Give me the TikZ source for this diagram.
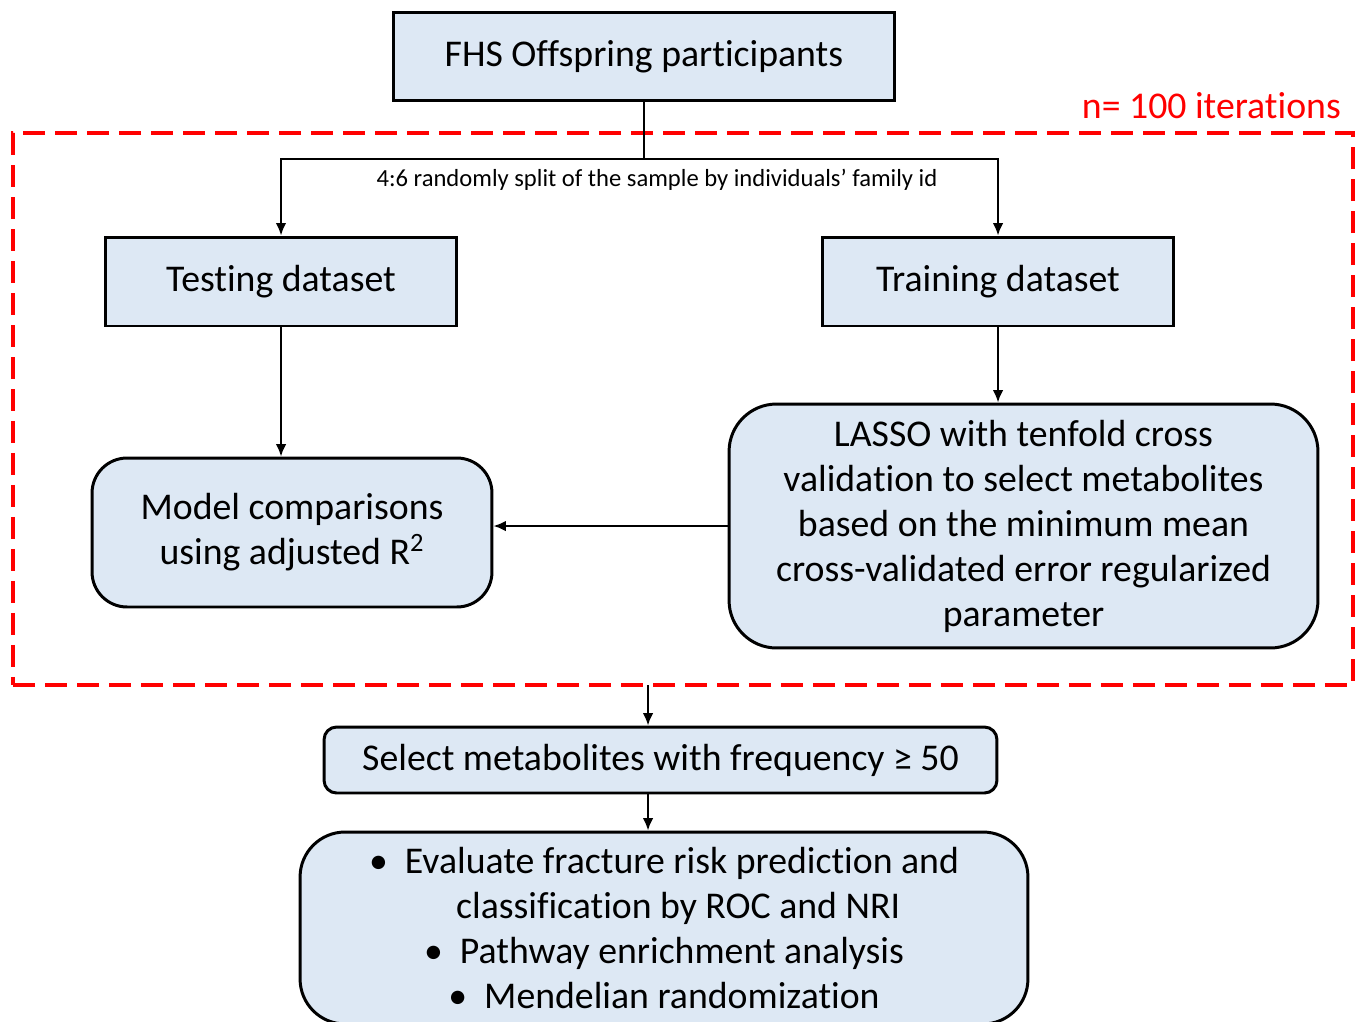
\documentclass[tikz,border=0pt]{standalone}
\usepackage{fontspec}
\setmainfont{Carlito}[Ligatures=NoCommon]
\usetikzlibrary{arrows.meta}

\definecolor{boxblue}{RGB}{221,232,244}

\begin{document}
\begin{tikzpicture}[x=0.02cm,y=-0.02cm,
    box/.style={draw=black,line width=1.7pt,fill=boxblue,align=center,inner sep=0pt,
        font=\fontsize{21.5}{25.6}\selectfont},
    link/.style={line width=1.2pt,-{Latex[length=7pt,width=6pt]}}]

    \useasboundingbox (0,0) rectangle (1365,1021);

    % Dashed frame round the repeated part
    \node[draw=red,line width=2.2pt,dash pattern=on 0.44cm off 0.2cm,inner sep=0pt,
        minimum width=26.8cm,minimum height=11.04cm] (loop) at (683,409) {};
    \node[text=red,anchor=base east,font=\fontsize{21.5}{25.6}\selectfont] (iter) at (1347,118) {n= 100 iterations};

    % Boxes
    \node[box,minimum width=10.04cm,minimum height=1.78cm] (fhs) at (644,56.5) {FHS Offspring participants};
    \node[box,minimum width=7.04cm,minimum height=1.78cm] (test) at (281,281.5) {Testing dataset};
    \node[box,minimum width=7.04cm,minimum height=1.78cm] (train) at (998,281.5) {Training dataset};
    \node[box,rounded corners=0.7cm,minimum width=8cm,minimum height=2.98cm] (model) at (292,532.5)
        {Model comparisons\\using adjusted R\textsuperscript{2}};
    \node[box,rounded corners=0.95cm,minimum width=11.78cm,minimum height=4.88cm] (lasso) at (1023.5,526)
        {LASSO with tenfold cross\\validation to select metabolites\\based on the minimum mean\\cross-validated error regularized\\parameter};
    \node[box,rounded corners=0.25cm,minimum width=13.46cm,minimum height=1.32cm] (sel) at (660.5,760)
        {Select metabolites with frequency ≥ 50};
    \node[box,rounded corners=0.9cm,minimum width=14.56cm,minimum height=3.84cm] (res) at (664,928)
        {\textbullet\ \ Evaluate fracture risk prediction and\\
         \hspace*{0.75em}classification by ROC and NRI\\
         \textbullet\ \ Pathway enrichment analysis\\
         \textbullet\ \ Mendelian randomization};

    % Split of the sample
    \coordinate (split) at (644,159);
    \draw[line width=1.2pt] (fhs.south) -- (split);
    \draw[link] (split) -| (test.north);
    \draw[link] (split) -| (train.north);
    \node[font=\fontsize{14}{16}\selectfont] (splitlbl) at (657,180) {4:6 randomly split of the sample by individuals’ family id};

    % Arrows inside the frame
    \draw[link] (test.south) -- (test.south |- model.north);
    \draw[link] (train.south) -- (train.south |- lasso.north);
    \draw[link] (lasso.west) -- (lasso.west -| model.east);

    % Arrows below the frame
    \coordinate (out) at (648,685);
    \draw[link] (out) -- (out |- sel.north);
    \draw[link] (out |- sel.south) -- (out |- res.north);

\end{tikzpicture}
\end{document}
